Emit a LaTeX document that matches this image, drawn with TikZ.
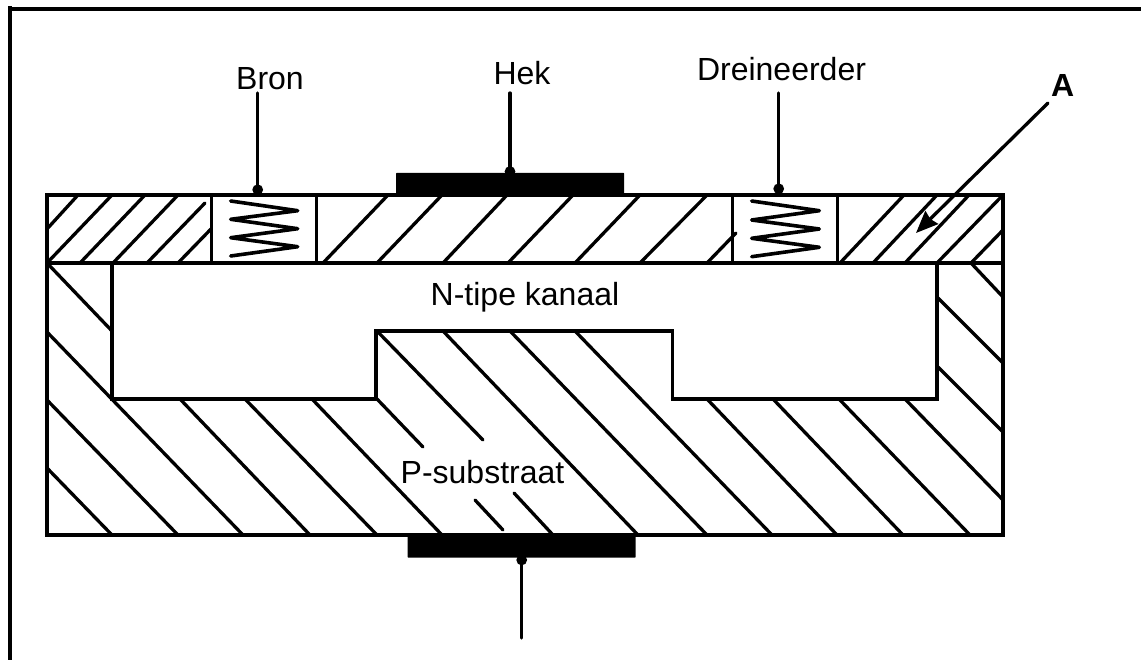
\documentclass[tikz,border=0pt]{standalone}
\usepackage{fontspec}
\setmainfont{Liberation Sans}
\usetikzlibrary{arrows.meta}
\newcommand{\lblsize}{\fontsize{32}{36}\selectfont}
\tikzset{
    body/.style={draw, line width=3.6pt, line join=miter},
    hatch/.style={line width=3.3pt, line cap=round},
    plate/.style={fill=black, rounded corners=0.5pt, inner sep=0pt},
    lead/.style={line width=3.3pt, line cap=round, -{Circle[length=10.5pt,width=10.5pt]}},
    lbl/.style={anchor=base, inner sep=0pt, font=\lblsize},
    cell/.style={draw, line width=3.2pt, inner sep=0pt, minimum height=68pt}
}

\begin{document}
\begin{tikzpicture}[x=1pt,y=-1pt]
    \useasboundingbox (0,0) rectangle (1141,660);
    \draw [line width=4pt] (10,660) -- (10,6);
    \draw [line width=4pt] (8,9) -- (1141,9);
    % hatching, top layer
    \foreach \xa/\ya/\xb/\yb in {47/229/78/195, 47/263/112/195, 80/263/145/195, 113/263/178/195,
        147/263/205/203, 178/263/211/229, 323/263/388/195, 377/263/442/195, 443/263/507/195,
        508/263/573/195, 575/263/640/195, 640/263/707/195, 707/263/736/233, 840/263/904/195,
        873/263/937/195, 905/263/969/195, 937/263/1003/195, 971/263/1003/230}
        \draw [hatch] (\xa,\ya) -- (\xb,\yb);
    % hatching, substrate
    \foreach \xa/\ya/\xb/\yb in {47/263/112/331, 47/332/243/535, 47/400/178/535, 47/468/112/535,
        180/399/310/535, 245/399/377/535, 312/399/442/535, 377/399/423/447, 475/500/503/530,
        377/331/483/440, 514/493/553/535, 443/331/638/535, 510/331/707/535, 575/331/772/535,
        707/399/837/535, 773/399/903/535, 839/399/970/535, 905/399/1003/500, 938/298/1003/363,
        938/367/1003/432, 971/263/1003/297}
        \draw [hatch] (\xa,\ya) -- (\xb,\yb);
    \draw [body] (47,195) rectangle (1003,535);
    \draw [body] (47,263) -- (1003,263);
    \draw [body] (112,263) -- (112,399) -- (376,399) -- (376,331) -- (672.5,331) -- (672.5,399)
        -- (937,399) -- (937,263);
    \node [cell, minimum width=105.5pt] (broncell) at (264,229) {};
    \node [cell, minimum width=105.5pt] (dreincell) at (785,229) {};
    \draw [line width=3.6pt, line cap=round, line join=round] (230.7,201) -- (297.7,210.7) -- (230.7,219.3)
        -- (297.7,228.7) -- (230.7,237.7) -- (297.7,246.7) -- (230.7,256);
    \draw [line width=3.6pt, line cap=round, line join=round] (751.7,201) -- (819.3,210.7) -- (751.7,220)
        -- (819.3,229) -- (751.7,238.3) -- (819.3,247.3) -- (751.7,256.7);
    \node [plate, minimum width=228pt, minimum height=23pt] (hekplate) at (510,184.5) {};
    \node [plate, minimum width=228pt, minimum height=23pt] (basisplate) at (521.7,546) {};
    \node [lbl] (bron) at (270,89.3) {Bron};
    \node [lbl] (hek) at (522,85) {Hek};
    \node [lbl] (drein) at (781.5,80.7) {Dreineerder};
    \node [lbl] (kanaal) at (525,305.7) {N-tipe kanaal};
    \node [lbl] (substraat) at (482.5,483.3) {P-substraat};
    \node [lbl, font=\lblsize\bfseries] (aa) at (1062.7,96.7) {A};
    \coordinate (brontop) at (257.7,93);
    \coordinate (bronpad) at (257.7,195);
    \coordinate (hektop) at (510,93);
    \coordinate (dreintop) at (778.7,93);
    \coordinate (dreinpad) at (778.7,194);
    \coordinate (basisend) at (521.7,638);
    \coordinate (aatail) at (1048,103);
    \coordinate (aatip) at (916,233);
    \draw [lead] (brontop) -- (bronpad);
    \draw [lead, shorten >=-4pt] (hektop) -- (hekplate.north);
    \draw [lead] (dreintop) -- (dreinpad);
    \draw [lead, shorten >=-3pt] (basisend) -- (basisplate.south);
    \draw [line width=3.3pt, line cap=round, -{Stealth[length=22pt,width=18pt,inset=2pt]}] (aatail) -- (aatip);
\end{tikzpicture}
\end{document}
